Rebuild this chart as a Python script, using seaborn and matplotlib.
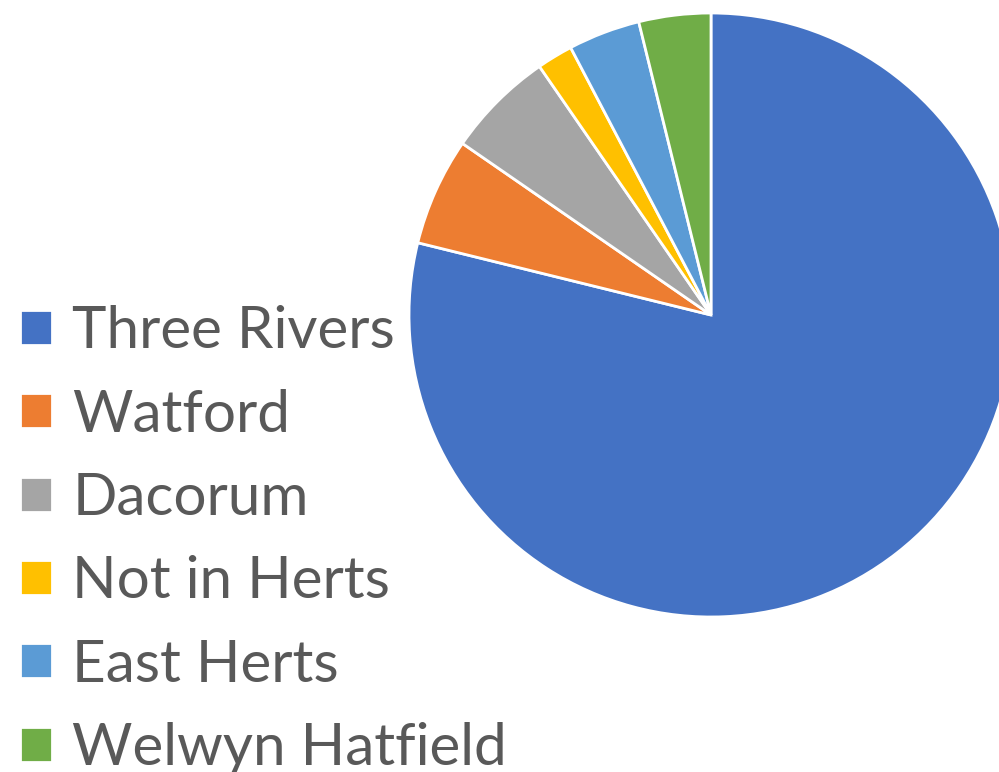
import matplotlib
matplotlib.use("Agg")
import matplotlib.pyplot as plt
import seaborn as sns

categories = ["Three Rivers", "Watford", "Dacorum", "Not in Herts", "East Herts", "Welwyn Hatfield"]
values = [41, 3, 3, 1, 2, 2]
colors = ["#4472C4", "#ED7D31", "#A5A5A5", "#FFC000", "#5B9BD5", "#70AD47"]

sns.set_theme(style="white")
plt.rcParams["font.family"] = ["Lato", "DejaVu Sans"]

W, H = 999, 772
fig = plt.figure(figsize=(W / 100, H / 100), dpi=100)
ax = fig.add_axes([0, 0, 1, 1])
ax.set_xlim(0, W)
ax.set_ylim(0, H)
ax.set_aspect("equal")
ax.axis("off")

wedges, _ = ax.pie(values, colors=sns.color_palette(colors), startangle=90, counterclock=False,
                   center=(711, H - 315), radius=302,
                   wedgeprops=dict(edgecolor="white", linewidth=2.0))
ax.set_xlim(0, W)
ax.set_ylim(0, H)

fs = 42
leg = fig.legend(wedges, categories, loc="center left", bbox_to_anchor=(20 / W, (H - 540) / H),
                 frameon=False, fontsize=fs, handlelength=0.55, handleheight=0.55,
                 handletextpad=0.35, labelspacing=0.52, borderpad=0, borderaxespad=0,
                 labelcolor="#595959")
fig.savefig("out.png", dpi=100)
